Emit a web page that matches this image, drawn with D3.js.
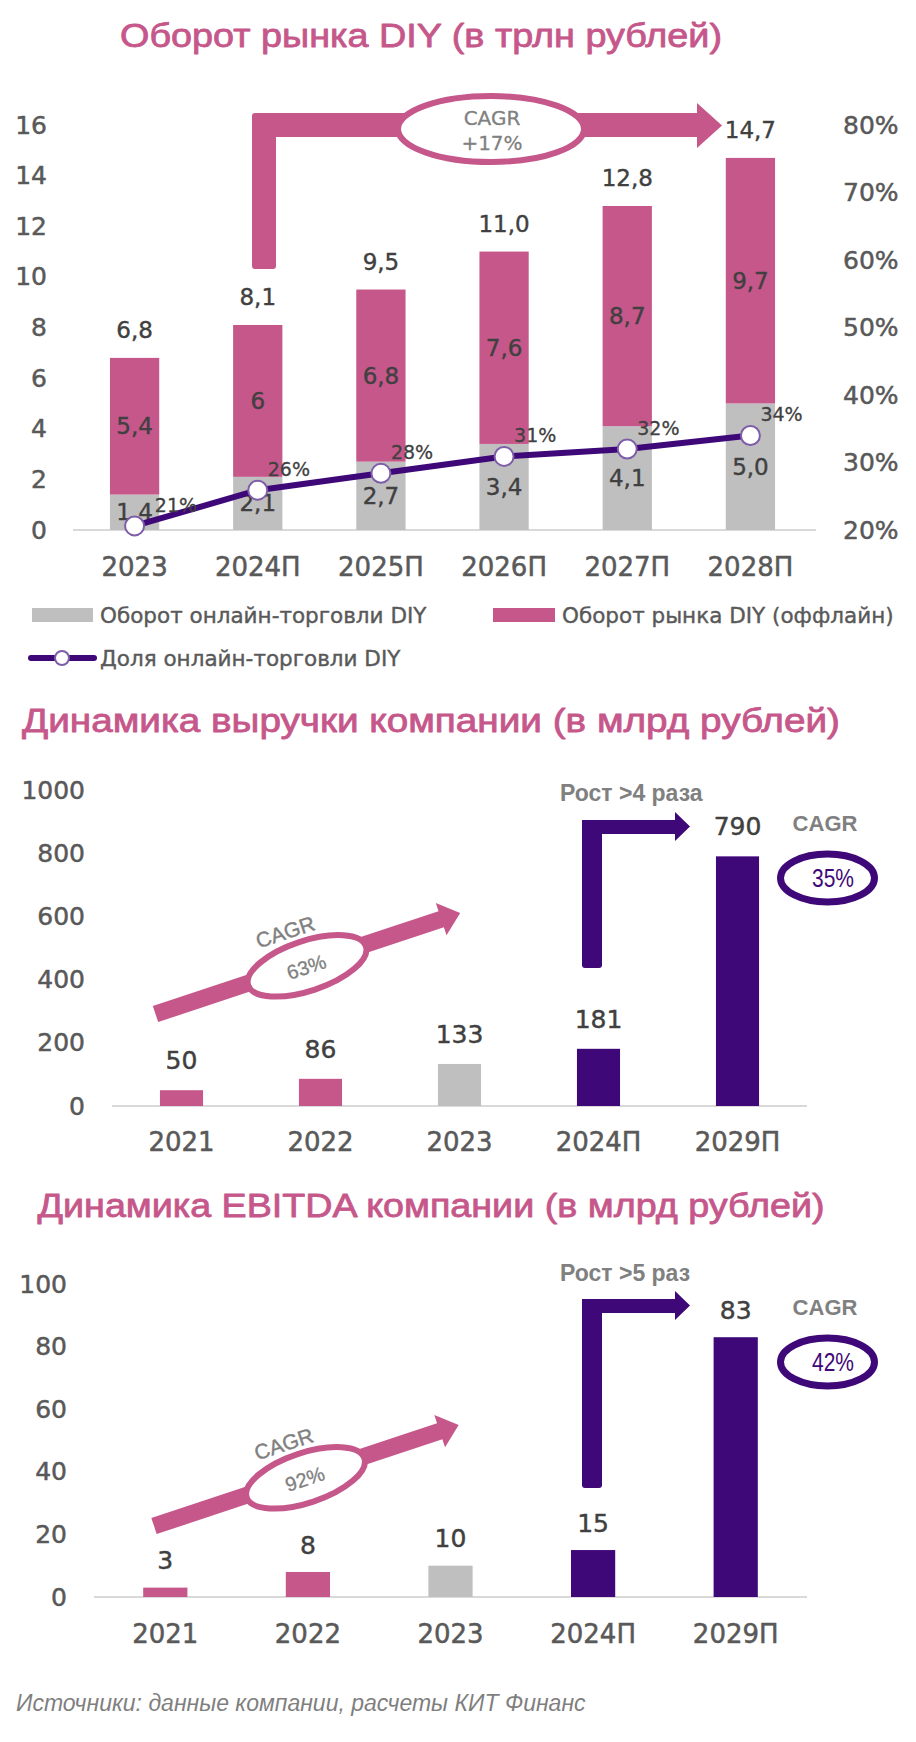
<!DOCTYPE html>
<html><head><meta charset="utf-8">
<script src="https://cdn.jsdelivr.net/npm/d3@7"></script>
<style>body{margin:0;background:#fff}svg{display:block}</style>
</head><body>
<svg id="c" width="916" height="1742"></svg>
<script>
// ---------- DATA ----------
const marketYears = ["2023", "2024П", "2025П", "2026П", "2027П", "2028П"];
const onlineTurnover = [1.4, 2.1, 2.7, 3.4, 4.1, 5.0];
const offlineTurnover = [5.4, 6, 6.8, 7.6, 8.7, 9.7];
const totalTurnover = [6.8, 8.1, 9.5, 11.0, 12.8, 14.7];
const onlineShare = [20.6, 25.9, 28.4, 30.9, 32.0, 34.0];
const marketLeftTicks = [0, 2, 4, 6, 8, 10, 12, 14, 16];
const marketRightTicks = [20, 30, 40, 50, 60, 70, 80];
const marketCagr = ["CAGR", "+17%"];
const legendLabels = ["Оборот онлайн-торговли DIY", "Оборот рынка DIY (оффлайн)", "Доля онлайн-торговли DIY"];

const companyYears = ["2021", "2022", "2023", "2024П", "2029П"];
const barGroup = ["hist", "hist", "base", "fcst", "fcst"];
const revenue = [50, 86, 133, 181, 790];
const revenueTicks = [0, 200, 400, 600, 800, 1000];
const revenueCagr = ["CAGR", "63%", "35%"];
const revenueGrowth = "Рост >4 раза";
const ebitda = [3, 8, 10, 15, 83];
const ebitdaTicks = [0, 20, 40, 60, 80, 100];
const ebitdaCagr = ["CAGR", "92%", "42%"];
const ebitdaGrowth = "Рост >5 раз";

const titles = ["Оборот рынка DIY (в трлн рублей)", "Динамика выручки компании (в млрд рублей)", "Динамика EBITDA компании (в млрд рублей)"];
const sourceNote = "Источники: данные компании, расчеты КИТ Финанс";

// ---------- STYLE ----------
const PINK = "#C6578A", PURPLE = "#3F0878", GRAY = "#BFBFBF", DARK = "#404040",
      TICK = "#595959", NOTE = "#808080", GRID = "#D9D9D9", MARK = "#7E5DA8";
const NUM = "'DejaVu Sans', sans-serif";
const SANS = "'Liberation Sans', Arial, sans-serif";
const NARROW = "'Liberation Sans Narrow', 'Liberation Sans', Arial, sans-serif";
const comma = v => String(v).replace(".", ",");
const comma1 = v => v.toFixed(1).replace(".", ",");
const barColor = { hist: PINK, base: GRAY, fcst: PURPLE };

const svg = d3.select("#c");

function heavy(sel, color, w) {
  return sel.attr("stroke", color).attr("stroke-width", w).attr("stroke-linejoin", "round").attr("paint-order", "stroke");
}
function title(text, cx, baseline, width) {
  const t = svg.append("text").attr("x", cx).attr("y", baseline).attr("text-anchor", "middle")
    .attr("font-family", SANS).attr("font-size", 34).attr("fill", PINK)
    .attr("textLength", width).attr("lengthAdjust", "spacingAndGlyphs").text(text);
  heavy(t, PINK, 0.8);
}
function styleAxis(g, size, color) {
  g.select(".domain").remove();
  g.selectAll(".tick line").remove();
  heavy(g.selectAll("text").attr("font-family", NUM).attr("font-size", size).attr("fill", color), color, 0.5);
}
function label(g, x, y, text, opts = {}) {
  const t = g.append("text").attr("x", x).attr("y", y).attr("dy", "0.35em")
    .attr("text-anchor", opts.anchor || "middle")
    .attr("font-family", opts.family || NUM).attr("font-size", opts.size || 23)
    .attr("font-weight", opts.weight || "normal")
    .attr("fill", opts.color || DARK).text(text);
  if (opts.heavy) heavy(t, opts.color || DARK, opts.heavy);
  return t;
}

// =============== CHART 1 ===============
title(titles[0], 421, 47, 602);
const c1 = svg.append("g");
const x1 = d3.scaleBand().domain(marketYears).range([73, 812]).paddingInner(0.6).paddingOuter(0.3);
const y1 = d3.scaleLinear().domain([0, 16]).range([530, 125]);
const y1r = d3.scaleLinear().domain([20, 80]).range([530, 125]);

c1.append("g").attr("transform", "translate(47,0)")
  .call(d3.axisLeft(y1).tickValues(marketLeftTicks).tickFormat(d3.format("d")).tickSize(0).tickPadding(0))
  .call(g => styleAxis(g, 25, TICK));
c1.append("g").attr("transform", "translate(843,0)")
  .call(d3.axisRight(y1r).tickValues(marketRightTicks).tickFormat(d => d + "%").tickSize(0).tickPadding(0))
  .call(g => styleAxis(g, 25, TICK));
c1.append("g").attr("transform", "translate(0,567)")
  .call(d3.axisBottom(x1).tickSize(0).tickPadding(0))
  .call(g => { styleAxis(g, 26, TICK); g.selectAll("text").attr("y", 0).attr("dy", "0.35em"); });

c1.append("line").attr("x1", 73).attr("x2", 816).attr("y1", y1(0)).attr("y2", y1(0))
  .attr("stroke", GRID).attr("stroke-width", 2);

const table1 = marketYears.map((k, i) => ({ year: k, online: onlineTurnover[i], offline: offlineTurnover[i], total: totalTurnover[i], share: onlineShare[i] }));
const stacked = d3.stack().keys(["online", "offline"])(table1);
const segColor = { online: GRAY, offline: PINK };
stacked.forEach(layer => {
  c1.append("g").selectAll("rect").data(layer).join("rect")
    .attr("x", d => x1(d.data.year)).attr("width", x1.bandwidth())
    .attr("y", d => y1(d[1])).attr("height", d => y1(d[0]) - y1(d[1]))
    .attr("fill", segColor[layer.key]);
});
const onlineLabels = [];
stacked.forEach(layer => {
  layer.forEach(d => {
    const v = d.data[layer.key];
    const t = label(c1, x1(d.data.year) + x1.bandwidth() / 2, y1((d[0] + d[1]) / 2),
      layer.key === "online" ? comma1(v) : comma(v), { size: 23, heavy: 0.4 });
    if (layer.key === "online") onlineLabels.push(t);
  });
});
table1.forEach(d => label(c1, x1(d.year) + x1.bandwidth() / 2, y1(d.total) - 28, comma1(d.total), { size: 23, heavy: 0.4 }));

// share line
const cx1 = d => x1(d.year) + x1.bandwidth() / 2;
c1.append("path").datum(table1)
  .attr("d", d3.line().x(cx1).y(d => y1r(d.share)))
  .attr("fill", "none").attr("stroke", PURPLE).attr("stroke-width", 6).attr("stroke-linejoin", "round");
c1.selectAll("circle.m").data(table1).join("circle").attr("class", "m")
  .attr("cx", cx1).attr("cy", d => y1r(d.share)).attr("r", 9.5)
  .attr("fill", "#fff").attr("stroke", MARK).attr("stroke-width", 2);
table1.forEach((d, i) => {
  const t = label(c1, cx1(d) + 10, y1r(d.share) - 21, d3.format(".0f")(d.share) + "%", { size: 19, anchor: "start", heavy: 0.3 });
  // keep the share label clear of the online-turnover value label
  const a = t.node().getBBox(), b = onlineLabels[i].node().getBBox();
  const overlapY = a.y < b.y + b.height && b.y < a.y + a.height;
  if (overlapY && a.x < b.x + b.width + 2) t.attr("x", b.x + b.width + 2);
});

// L arrow with CAGR ellipse
c1.append("path")
  .attr("d", "M252,116 Q252,113 255,113 L697,113 L697,103 L722,125.5 L697,148 L697,137 L276,137 L276,266 Q276,269 273,269 L255,269 Q252,269 252,266 Z")
  .attr("fill", PINK);
c1.append("ellipse").attr("cx", 491).attr("cy", 129).attr("rx", 93).attr("ry", 33)
  .attr("fill", "#fff").attr("stroke", PINK).attr("stroke-width", 6);
label(c1, 492, 118, marketCagr[0], { size: 20, color: NOTE, heavy: 0.3 });
label(c1, 492, 143, marketCagr[1], { size: 20, color: NOTE, heavy: 0.3 });

// legend
const lg = svg.append("g");
lg.append("rect").attr("x", 32).attr("y", 608).attr("width", 61).attr("height", 14).attr("fill", GRAY);
label(lg, 100, 615, legendLabels[0], { anchor: "start", size: 21.5, color: TICK, heavy: 0.4 });
lg.append("rect").attr("x", 493).attr("y", 608).attr("width", 62).attr("height", 14).attr("fill", PINK);
label(lg, 562, 615, legendLabels[1], { anchor: "start", size: 21.5, color: TICK, heavy: 0.4 });
lg.append("line").attr("x1", 31).attr("x2", 94).attr("y1", 658).attr("y2", 658)
  .attr("stroke", PURPLE).attr("stroke-width", 6).attr("stroke-linecap", "round");
lg.append("circle").attr("cx", 62).attr("cy", 658).attr("r", 7).attr("fill", "#fff").attr("stroke", MARK).attr("stroke-width", 2);
label(lg, 100, 658, legendLabels[2], { anchor: "start", size: 21.5, color: TICK, heavy: 0.4 });

// =============== COMPANY CHARTS ===============
function companyChart(cfg) {
  const g = svg.append("g");
  title(cfg.title, 431, cfg.titleY, cfg.titleW);
  const x = d3.scaleBand().domain(companyYears).range(cfg.xr).paddingInner(0.69).paddingOuter(0.345);
  const y = d3.scaleLinear().domain([0, cfg.ticks[cfg.ticks.length - 1]]).range(cfg.yr);
  g.append("g").attr("transform", `translate(${cfg.tickX},0)`)
    .call(d3.axisLeft(y).tickValues(cfg.ticks).tickFormat(d3.format("d")).tickSize(0).tickPadding(0))
    .call(a => styleAxis(a, 25, TICK));
  g.append("g").attr("transform", `translate(0,${cfg.xLabY})`)
    .call(d3.axisBottom(x).tickSize(0).tickPadding(0))
    .call(a => { styleAxis(a, 26, TICK); a.selectAll("text").attr("y", 0).attr("dy", "0.35em"); });
  g.append("line").attr("x1", cfg.xr[0]).attr("x2", cfg.xr[1]).attr("y1", y(0)).attr("y2", y(0))
    .attr("stroke", GRID).attr("stroke-width", 2);
  const rows = companyYears.map((k, i) => ({ year: k, v: cfg.values[i], grp: barGroup[i] }));
  g.selectAll("rect.b").data(rows).join("rect").attr("class", "b")
    .attr("x", d => x(d.year)).attr("width", x.bandwidth())
    .attr("y", d => y(d.v)).attr("height", d => y(0) - y(d.v))
    .attr("fill", d => barColor[d.grp]);
  rows.forEach(d => label(g, x(d.year) + x.bandwidth() / 2, y(d.v) - cfg.labOff, String(d.v), { size: 25, heavy: 0.45 }));

  // diagonal CAGR arrow
  const a = g.append("g").attr("transform", `translate(${cfg.tail[0]},${cfg.tail[1]}) rotate(-18.35)`);
  a.append("path").attr("d", "M0,-8.5 L301,-8.5 L301,-17 L321,0 L301,17 L301,8.5 L0,8.5 Z").attr("fill", PINK);
  a.append("ellipse").attr("cx", 159).attr("cy", 2).attr("rx", 62).attr("ry", 25)
    .attr("fill", "#fff").attr("stroke", PINK).attr("stroke-width", 6);
  label(a, 149, -37, cfg.cagr[0], { size: 21, color: NOTE, family: SANS, heavy: 0.4 });
  label(a, 158, 3, cfg.cagr[1], { size: 20, color: NOTE, family: SANS, heavy: 0.3 });

  // L arrow
  const t = cfg.lTop, b = cfg.lBot;
  g.append("path")
    .attr("d", `M582,${t} L675,${t} L675,${t - 8} L690,${t + 6.5} L675,${t + 21} L675,${t + 14} L602,${t + 14} L602,${b - 3} Q602,${b} 599,${b} L585,${b} Q582,${b} 582,${b - 3} Z`)
    .attr("fill", PURPLE);
  label(g, 560, cfg.growthY, cfg.growth, { anchor: "start", size: 23, weight: "bold", color: NOTE, family: SANS });
  label(g, 825, cfg.cagrY, cfg.cagr[0], { size: 22, weight: "bold", color: NOTE, family: SANS });
  g.append("ellipse").attr("cx", 827.5).attr("cy", cfg.ellY).attr("rx", 47).attr("ry", 24)
    .attr("fill", "#fff").attr("stroke", PURPLE).attr("stroke-width", 7);
  label(g, 833, cfg.ellY, cfg.cagr[2], { size: 25, color: PURPLE, family: NARROW })
    .attr("textLength", 42).attr("lengthAdjust", "spacingAndGlyphs");
}

companyChart({
  title: titles[1], titleY: 732, titleW: 818, values: revenue, ticks: revenueTicks,
  xr: [112, 807], yr: [1106, 790], tickX: 85, xLabY: 1142, labOff: 30,
  tail: [155.5, 1014], cagr: revenueCagr, lTop: 820, lBot: 968, growth: revenueGrowth,
  growthY: 793, cagrY: 823, ellY: 878
});
companyChart({
  title: titles[2], titleY: 1217, titleW: 787, values: ebitda, ticks: ebitdaTicks,
  xr: [94, 807], yr: [1597, 1284], tickX: 67, xLabY: 1634, labOff: 27,
  tail: [154, 1526], cagr: ebitdaCagr, lTop: 1299, lBot: 1488, growth: ebitdaGrowth,
  growthY: 1273, cagrY: 1307, ellY: 1362
});

// source
svg.append("text").attr("x", 16).attr("y", 1703).attr("dy", "0.35em")
  .attr("font-family", SANS).attr("font-style", "italic").attr("font-size", 23)
  .attr("fill", "#7F7F7F").text(sourceNote);
</script>
</body></html>
